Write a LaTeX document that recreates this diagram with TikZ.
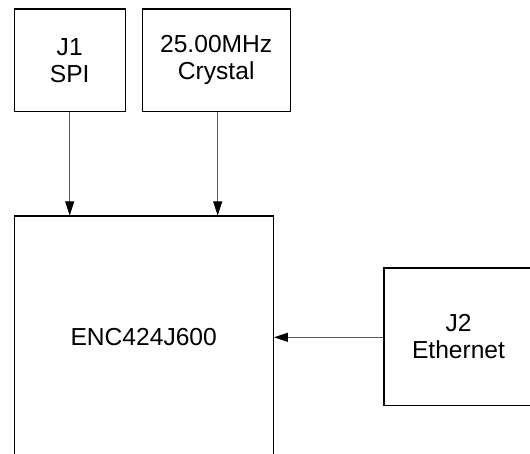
\documentclass[tikz,border=0pt]{standalone}
\usepackage{fontspec}
\setmainfont{Liberation Sans}
\usetikzlibrary{arrows.meta}
\begin{document}
\begin{tikzpicture}[x=1pt,y=-1pt,
  blk/.style={draw=black, line width=1.1pt, fill=white, inner sep=0pt, align=center,
    font=\fontsize{24.6}{27}\selectfont},
  conn/.style={draw=black!65, line width=0.9pt, -{Triangle[length=14pt,width=9pt,fill=black,color=black]}}]
\useasboundingbox (0,0) rectangle (530,453);
\clip (0,0) rectangle (530,453);
\fill[white] (0,0) rectangle (530,453);
\node[blk, minimum width=111pt, minimum height=102.7pt] (j1) at (69.7,60.3) {J1\\SPI};
\node[blk, minimum width=147.7pt, minimum height=102.7pt] (xtal) at (216.2,60.3) {25.00MHz\\Crystal};
\node[blk, minimum width=259.3pt, minimum height=242pt] (enc) at (143.7,337) {ENC424J600};
\node[blk, minimum width=149pt, minimum height=137.7pt] (j2) at (458.5,336.8) {J2\\Ethernet};
\draw[conn] (j1.south) -- (j1.south |- enc.north);
\draw[conn] (xtal.south -| 217.7,0) -- (217.7,0 |- enc.north);
\draw[conn] (j2.west |- 0,337.3) -- (enc.east |- 0,337.3);
\end{tikzpicture}
\end{document}
